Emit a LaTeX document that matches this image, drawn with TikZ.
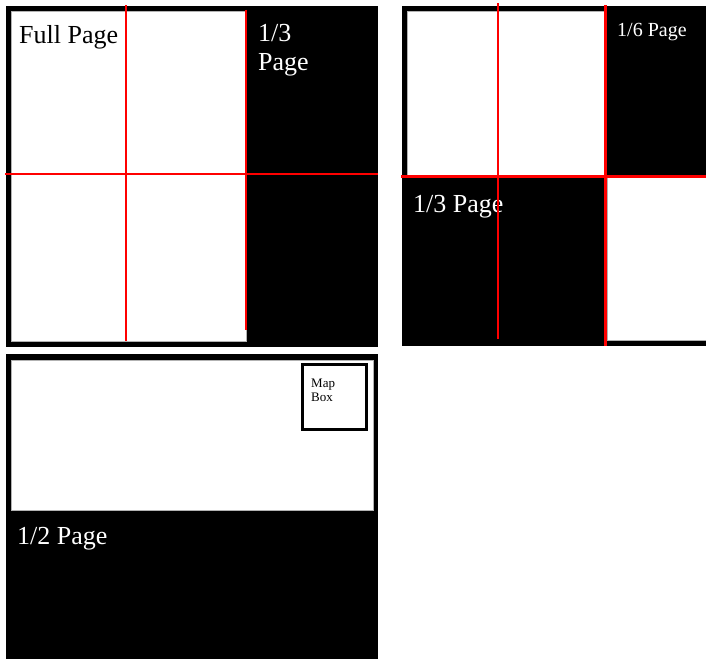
\documentclass[tikz,border=0pt]{standalone}
\usepackage{fontspec}
\setmainfont{Liberation Serif}
\begin{document}
\begin{tikzpicture}[x=1pt,y=-1pt,
  sheet/.style={fill=white,draw=gray!60,line width=0.8pt},
  guide/.style={draw=red,line width=2.2pt},
  lbl/.style={anchor=base west,inner sep=0pt,align=left,font=\fontsize{26}{29}\selectfont}]
  \useasboundingbox[fill=white] (0,0) rectangle (706,659);
  % Full page with a 1/3 column on the right
  \fill[black] (6,6) rectangle (378,347);
  \draw[sheet] (11.5,11.5) rectangle (246,341);
  \node[lbl] (full) at (19,43) {Full Page};
  \node[lbl,white] (third) at (258,70) {1/3\\Page};
  \draw[guide] (126,5)--(126,341);
  \draw[guide] (246,9.5)--(246,330);
  \draw[guide] (5,174)--(378,174);
  % 1/6 and 1/3 page
  \fill[black] (402,6) rectangle (706,346);
  \draw[sheet] (407,11.5) rectangle (606,176);
  \draw[sheet] (607,177) rectangle (707,340);
  \node[lbl,white,font=\fontsize{20}{24}\selectfont] (sixth) at (617,36) {1/6 Page};
  \node[lbl,white] (thirdb) at (413,212.5) {1/3 Page};
  \draw[guide] (498,3)--(498,339);
  \draw[guide] (605.5,5)--(605.5,346);
  \draw[guide] (401,176.5)--(706,176.5);
  % Half page with the map box
  \fill[black] (6,354) rectangle (378,659);
  \draw[sheet] (11.5,360) rectangle (373,510);
  \draw[fill=white,line width=3pt] (302.5,364.5) rectangle (366.5,429.5);
  \node[lbl,font=\fontsize{13}{14}\selectfont] (map) at (311,401) {Map\\Box};
  \node[lbl,white] (half) at (17,544) {1/2 Page};
\end{tikzpicture}
\end{document}
